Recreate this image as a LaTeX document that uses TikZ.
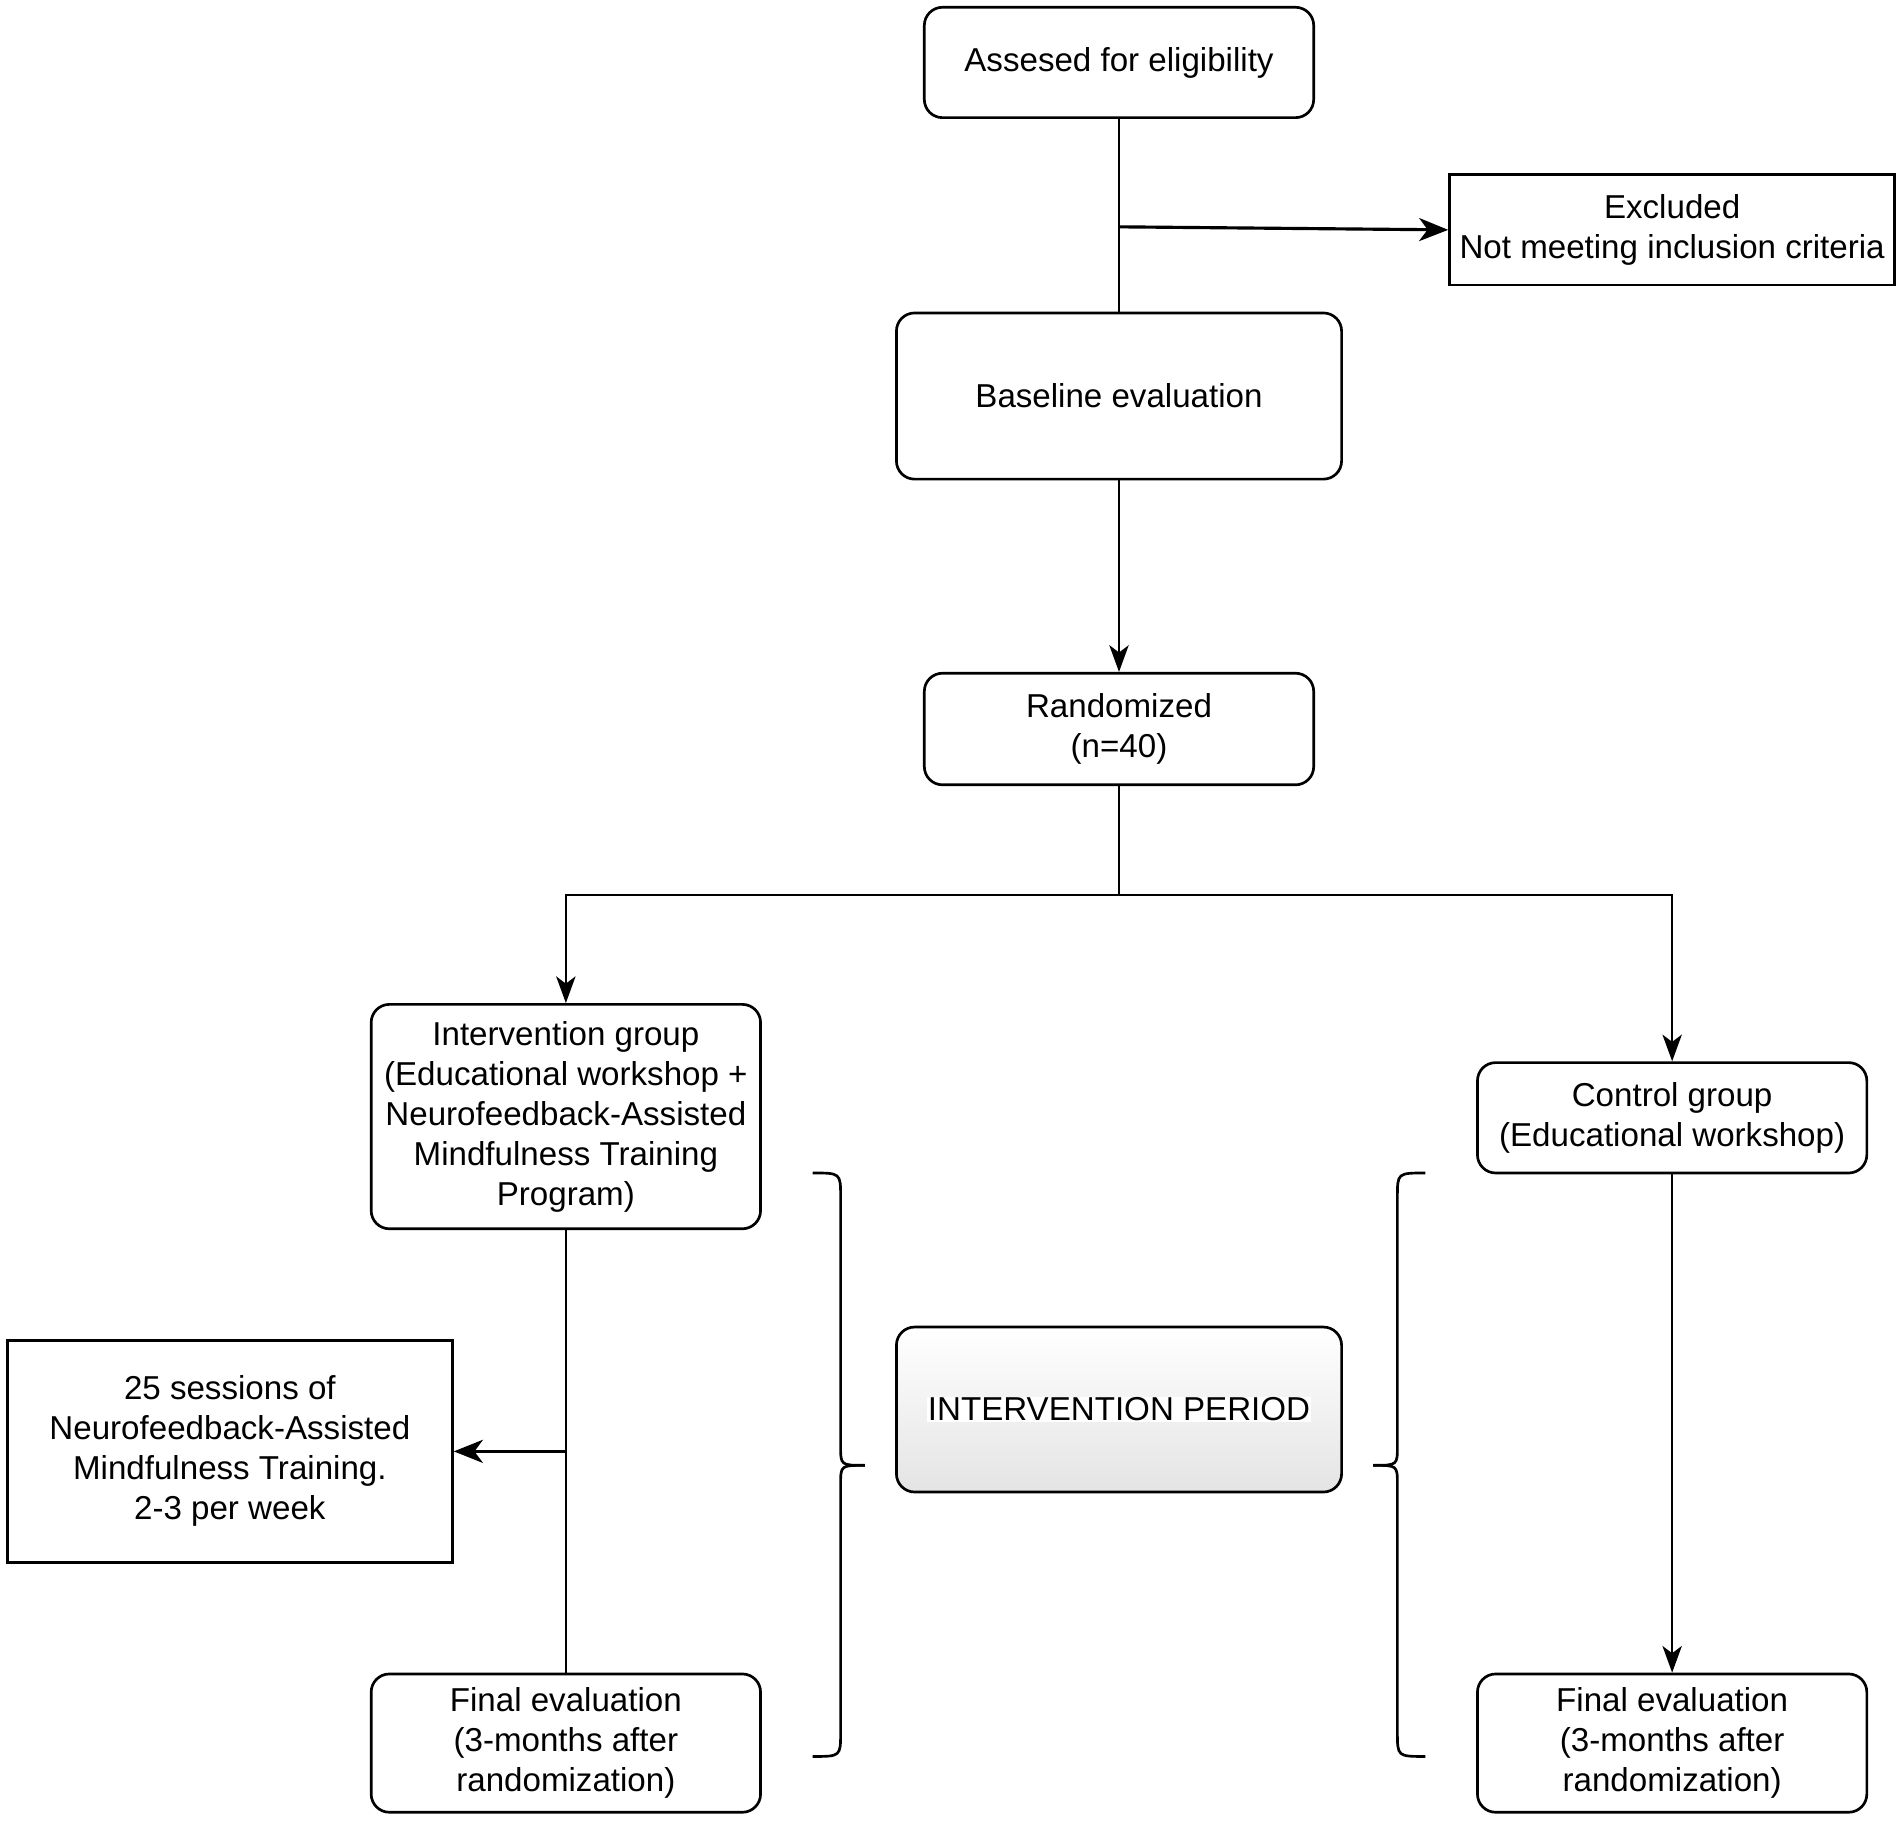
\documentclass[tikz,border=0pt]{standalone}
\usepackage{fontspec}
\setmainfont{Liberation Sans}
\usetikzlibrary{arrows.meta}
\definecolor{gradbot}{RGB}{228,228,228}
\begin{document}
\begin{tikzpicture}[x=1pt,y=-1pt,
 font=\fontsize{27.3}{33}\selectfont,
 box/.style={draw=black,line width=2.2pt,align=center,inner sep=0pt,fill=white},
 rbox/.style={box,rounded corners=15pt},
 conn/.style={line width=1.5pt},
 arr/.style={conn,-{Stealth[length=22pt,width=16pt,inset=6pt]}},
 thickarr/.style={line width=2.6pt,-{Stealth[length=24pt,width=19pt,inset=7pt]}},
 brace/.style={line width=2.2pt}]
\useasboundingbox (0,0) rectangle (1568,1501);
\fill[white] (0,0) rectangle (1568,1501);
\setlength{\fboxsep}{1pt}
% nodes
\node[rbox,minimum width=321pt,minimum height=91pt] (elig) at (922.5,51.5) {Assesed for eligibility};
\node[box,minimum width=367pt,minimum height=91pt] (excl) at (1378.5,189.5) {Excluded\\Not meeting inclusion criteria};
\node[rbox,minimum width=367pt,minimum height=137pt] (base) at (922.5,326.5) {Baseline evaluation};
\node[rbox,minimum width=321pt,minimum height=92pt] (rand) at (922.5,601) {Randomized\\(n=40)};
\node[rbox,minimum width=321pt,minimum height=185pt] (int) at (466.5,920.5) {Intervention group\\(Educational workshop +\\Neurofeedback-Assisted\\Mindfulness Training\\Program)};
\node[rbox,minimum width=321pt,minimum height=91pt] (ctrl) at (1378.5,921.5) {Control group\\(Educational workshop)};
\node[box,minimum width=367pt,minimum height=183pt] (sess) at (189.5,1196.5) {25 sessions of\\Neurofeedback-Assisted\\Mindfulness Training.\\2-3 per week};
\node[rbox,minimum width=321pt,minimum height=114pt] (finl) at (466.5,1437) {Final evaluation\\(3-months after\\randomization)};
\node[rbox,minimum width=321pt,minimum height=114pt] (finr) at (1378.5,1437) {Final evaluation\\(3-months after\\randomization)};
\node[rbox,minimum width=367pt,minimum height=136pt,top color=white,bottom color=gradbot] (ip) at (922.5,1162) {\colorbox{white}{INTERVENTION PERIOD}};
% connectors
\coordinate (ex) at (922.5,187);
\coordinate (split) at (922.5,738);
\coordinate (sb) at (466.5,1196.5);
\draw[conn] (elig) -- (base);
\draw[thickarr] (ex) -- (excl.west);
\draw[arr] (base) -- (rand);
\draw[conn] (rand) -- (split);
\draw[arr] (split) -| (int.north);
\draw[arr] (split) -| (ctrl.north);
\draw[conn] (int) -- (finl);
\draw[thickarr] (sb) -- (sess.east);
\draw[arr] (ctrl) -- (finr);
% braces
\draw[brace] (670,967) .. controls (693,967) .. (693,987) -- (693,1192)
  .. controls (693,1208) .. (713,1208);
\draw[brace] (713,1208) .. controls (693,1208) .. (693,1224) -- (693,1428)
  .. controls (693,1448) .. (670,1448);
\draw[brace] (1175,967) .. controls (1152,967) .. (1152,987) -- (1152,1192)
  .. controls (1152,1208) .. (1132,1208);
\draw[brace] (1132,1208) .. controls (1152,1208) .. (1152,1224) -- (1152,1428)
  .. controls (1152,1448) .. (1175,1448);
\end{tikzpicture}
\end{document}
